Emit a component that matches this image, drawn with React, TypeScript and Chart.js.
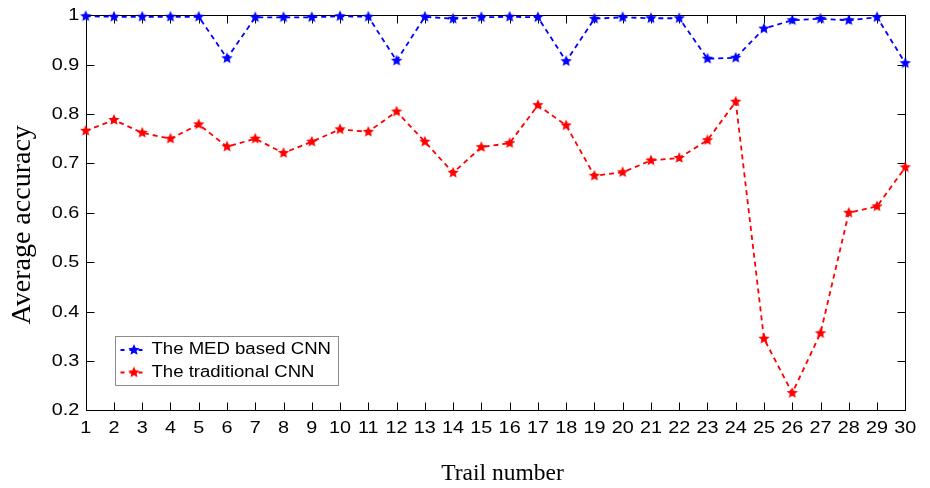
import { useEffect, useRef } from "react";
import { Chart, registerables } from "chart.js";

Chart.register(...registerables);

// Trial indices along the x axis
const trialLabels = [
  "1", "2", "3", "4", "5", "6", "7", "8", "9", "10",
  "11", "12", "13", "14", "15", "16", "17", "18", "19", "20",
  "21", "22", "23", "24", "25", "26", "27", "28", "29", "30",
];

// Average accuracy of the MED based CNN per trial
const medCnnAccuracy = [
  0.998, 0.997, 0.997, 0.997, 0.997, 0.913, 0.996, 0.996, 0.996, 0.998,
  0.997, 0.908, 0.997, 0.993, 0.996, 0.997, 0.996, 0.907, 0.993, 0.996,
  0.994, 0.994, 0.912, 0.914, 0.973, 0.990, 0.993, 0.990, 0.996, 0.903,
];

// Average accuracy of the traditional CNN per trial
const traditionalCnnAccuracy = [
  0.766, 0.788, 0.762, 0.750, 0.779, 0.734, 0.750, 0.721, 0.744, 0.769,
  0.764, 0.805, 0.744, 0.681, 0.733, 0.741, 0.818, 0.777, 0.675, 0.682,
  0.706, 0.711, 0.747, 0.825, 0.345, 0.235, 0.356, 0.600, 0.613, 0.692,
];

const seriesNames = ["The MED based CNN", "The traditional CNN"];
const seriesColors = ["#0000ff", "#ff0000"];

const yTickLabels = ["0.2", "0.3", "0.4", "0.5", "0.6", "0.7", "0.8", "0.9", "1"];

const xTitle = "Trail number";
const yTitle = "Average accuracy";

const SANS = "'Liberation Sans', Arial, sans-serif";
const SERIF = "'Liberation Serif', 'Times New Roman', serif";

// Filled five-pointed star used as the point marker
function makeStar(color: string, r: number): HTMLCanvasElement {
  const size = Math.ceil(r * 2 + 2);
  const c = document.createElement("canvas");
  c.width = size;
  c.height = size;
  const g = c.getContext("2d")!;
  g.fillStyle = color;
  g.beginPath();
  for (let k = 0; k < 10; k++) {
    const rad = k % 2 === 0 ? r : r * 0.45;
    const ang = -Math.PI / 2 + (k * Math.PI) / 5;
    g.lineTo(size / 2 + rad * Math.cos(ang), size / 2 + rad * Math.sin(ang));
  }
  g.closePath();
  g.fill();
  return c;
}

// Text widened horizontally by sx, anchored at (x, y)
function wideText(ctx: CanvasRenderingContext2D, text: string, x: number, y: number, sx: number, align: CanvasTextAlign) {
  ctx.save();
  ctx.translate(x, y);
  ctx.scale(sx, 1);
  ctx.textAlign = align;
  ctx.fillText(text, 0, 0);
  ctx.restore();
}

// Box frame with inward tick marks on all four sides, tick labels and axis titles
const framePlugin = {
  id: "frameTicks",
  beforeDatasetsDraw(chart: any) {
    const { ctx, chartArea: a, scales } = chart;
    const tl = 8;
    const L = Math.round(a.left) + 0.5;
    const R = Math.round(a.right) + 0.5;
    const T = Math.round(a.top) + 0.5;
    const B = Math.round(a.bottom) + 0.5;
    ctx.save();
    ctx.strokeStyle = "#000";
    ctx.lineWidth = 1;
    ctx.beginPath();
    ctx.rect(L, T, R - L, B - T);
    scales.x.ticks.forEach((_t: any, i: number) => {
      const px = Math.round(scales.x.getPixelForTick(i)) + 0.5;
      ctx.moveTo(px, B);
      ctx.lineTo(px, B - tl);
      ctx.moveTo(px, T);
      ctx.lineTo(px, T + tl);
    });
    scales.y.ticks.forEach((_t: any, i: number) => {
      const py = Math.round(scales.y.getPixelForTick(i)) + 0.5;
      ctx.moveTo(L, py);
      ctx.lineTo(L + tl, py);
      ctx.moveTo(R, py);
      ctx.lineTo(R - tl, py);
    });
    ctx.stroke();

    // tick labels
    ctx.fillStyle = "#000";
    ctx.font = `16.5px ${SANS}`;
    ctx.textBaseline = "middle";
    scales.x.ticks.forEach((_t: any, i: number) => {
      const px = scales.x.getPixelForTick(i);
      wideText(ctx, trialLabels[i], px, a.bottom + 18.5, 1.2, "center");
    });
    scales.y.ticks.forEach((_t: any, i: number) => {
      const py = scales.y.getPixelForTick(i);
      wideText(ctx, yTickLabels[i], a.left - 6.5, py + 0.5, 1.2, "right");
    });

    // axis titles
    ctx.font = `23.5px ${SERIF}`;
    ctx.textAlign = "center";
    ctx.textBaseline = "middle";
    ctx.fillText(xTitle, (a.left + a.right) / 2 + 7, a.bottom + 63.5);

    ctx.save();
    ctx.font = `28px ${SERIF}`;
    ctx.translate(a.left - 63.5, (a.top + a.bottom) / 2 + 12);
    ctx.rotate(-Math.PI / 2);
    ctx.fillText(yTitle, 0, 0);
    ctx.restore();

    ctx.restore();
  },
};

// Legend box drawn inside the lower-left of the plot
const legendPlugin = {
  id: "insideLegend",
  afterDatasetsDraw(chart: any) {
    const { ctx, chartArea: a } = chart;
    const boxX = Math.round(a.left + 29) + 0.5;
    const boxY = Math.round(a.bottom - 74) + 0.5;
    const boxW = 223;
    const boxH = 49;
    ctx.save();
    ctx.fillStyle = "#fff";
    ctx.fillRect(boxX, boxY, boxW, boxH);
    ctx.strokeStyle = "#8c8c8c";
    ctx.lineWidth = 1;
    ctx.strokeRect(boxX, boxY, boxW, boxH);
    chart.data.datasets.forEach((ds: any, i: number) => {
      const cy = boxY + 13.5 + i * 22.5;
      const x0 = boxX + 5;
      const x1 = boxX + 32;
      ctx.strokeStyle = ds.borderColor;
      ctx.lineWidth = 1.8;
      ctx.setLineDash([4, 5]);
      ctx.beginPath();
      ctx.moveTo(x0, cy);
      ctx.lineTo(x1, cy);
      ctx.stroke();
      ctx.setLineDash([]);
      const star = ds.pointStyle as HTMLCanvasElement;
      ctx.drawImage(star, (x0 + x1) / 2 - star.width / 2, cy - star.height / 2);
      ctx.fillStyle = "#000";
      ctx.font = `16px ${SANS}`;
      ctx.textBaseline = "middle";
      wideText(ctx, ds.label, x1 + 4, cy, 1.16, "left");
    });
    ctx.restore();
  },
};

export default function App() {
  const canvasRef = useRef<HTMLCanvasElement | null>(null);

  useEffect(() => {
    document.body.style.margin = "0";
    const canvas = canvasRef.current;
    if (!canvas) return;

    const seriesData = [medCnnAccuracy, traditionalCnnAccuracy];

    const chart = new Chart(canvas, {
      type: "line",
      data: {
        labels: trialLabels,
        datasets: seriesData.map((d, i) => ({
          label: seriesNames[i],
          data: d,
          borderColor: seriesColors[i],
          backgroundColor: seriesColors[i],
          borderWidth: 1.8,
          borderDash: [5, 4],
          pointStyle: makeStar(seriesColors[i], 6),
          pointRadius: 6,
          tension: 0,
          clip: false as any,
        })),
      },
      options: {
        animation: false,
        responsive: false,
        maintainAspectRatio: false,
        events: [],
        layout: { padding: { left: 0, right: 24.7, top: 15.3, bottom: 0 } },
        plugins: {
          legend: { display: false },
          tooltip: { enabled: false },
        },
        scales: {
          x: {
            type: "category",
            offset: false,
            grid: { display: false, drawTicks: false },
            border: { display: false },
            ticks: { display: false, autoSkip: false, maxRotation: 0 },
            afterFit: (s: any) => {
              s.height = 77.7;
            },
          },
          y: {
            type: "linear",
            min: 0.2,
            max: 1,
            grid: { display: false, drawTicks: false },
            border: { display: false },
            ticks: { display: false, stepSize: 0.1 },
            afterFit: (s: any) => {
              s.width = 85.7;
            },
          },
        },
      },
      plugins: [framePlugin, legendPlugin],
    });

    return () => chart.destroy();
  }, []);

  return (
    <div style={{ width: 930, height: 488 }}>
      <canvas ref={canvasRef} width={930} height={488} style={{ display: "block" }} />
    </div>
  );
}
